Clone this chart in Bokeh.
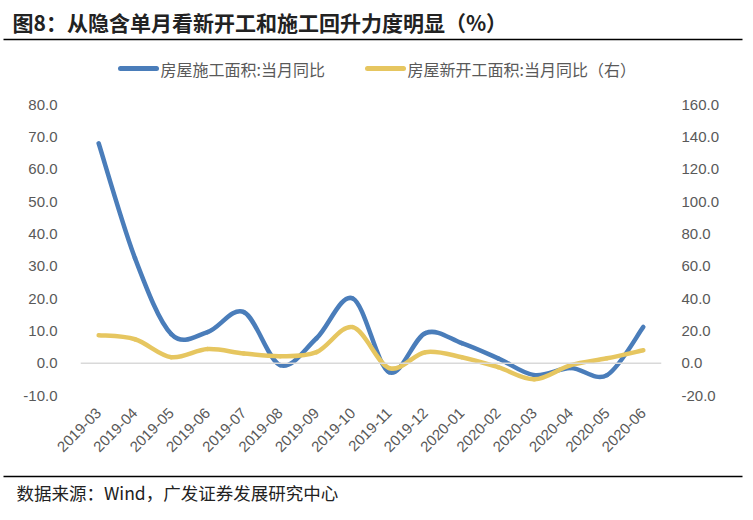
import numpy as np
from bokeh.plotting import figure
from bokeh.layouts import column
from bokeh.models import (Range1d, LinearAxis, FixedTicker, NumeralTickFormatter, Span)
from bokeh.core.properties import value
from bokeh.embed import file_html
from bokeh.resources import INLINE

months = ["2019-03", "2019-04", "2019-05", "2019-06", "2019-07", "2019-08",
          "2019-09", "2019-10", "2019-11", "2019-12", "2020-01", "2020-02",
          "2020-03", "2020-04", "2020-05", "2020-06"]
construction = [68.0, 32.5, 9.0, 9.6, 15.8, -0.6, 7.7, 20.0, -2.8, 9.3,
                6.2, 1.5, -3.7, -1.5, -3.7, 11.2]
new_starts = [17.3, 14.8, 3.7, 8.7, 6.0, 4.3, 6.8, 22.3, -3.0, 6.8,
              3.7, -2.5, -10.0, -1.2, 3.0, 8.0]
left_ticks = [-10, 0, 10, 20, 30, 40, 50, 60, 70, 80]
right_ticks = [-20, 0, 20, 40, 60, 80, 100, 120, 140, 160]

title_text = "图8：从隐含单月看新开工和施工回升力度明显（%）"
source_text = "数据来源：Wind，广发证券发展研究中心"
name_a = "房屋施工面积:当月同比"
name_b = "房屋新开工面积:当月同比（右）"

BLUE = "#4a7dba"
YELLOW = "#e6c660"
GRAY = "#595959"
CJK = "Noto Sans CJK SC"

W = 745
H_TOP = 90
H_MAIN = 372
H_BOT = 50
FL, FR, FT, FB = 80, 661, 104, 395   # frame edges in page pixels


def blank(height):
    f = figure(width=W, height=height, output_backend="svg", toolbar_location=None,
               x_range=Range1d(0, W), y_range=Range1d(height, 0),
               min_border=0, min_border_left=0, min_border_right=0,
               min_border_top=0, min_border_bottom=0, frame_align=False)
    f.axis.visible = False
    f.grid.visible = False
    f.outline_line_color = None
    return f


# ---------- header: title, rule, legend ----------
top = blank(H_TOP)
top.text(x=[12], y=[21], text=[title_text], text_font=value(CJK), text_font_style="bold",
         text_font_size="21px", text_color="#222222", text_baseline="middle")
top.line(x=[3, 742], y=[39, 39], line_color="black", line_width=1.6)
top.line(x=[120, 156], y=[68, 68], line_color=BLUE, line_width=5, line_cap="round")
top.text(x=[160], y=[68], text=[name_a], text_font=value(CJK), text_font_size="16px",
         text_color=GRAY, text_baseline="middle")
top.line(x=[367, 403], y=[68, 68], line_color=YELLOW, line_width=5, line_cap="round")
top.text(x=[407], y=[68], text=[name_b], text_font=value(CJK), text_font_size="16px",
         text_color=GRAY, text_baseline="middle")

# ---------- main chart ----------
p = figure(width=W, height=H_MAIN, output_backend="svg", toolbar_location=None,
           x_range=Range1d(-0.5, len(months) - 0.5),
           y_range=Range1d(left_ticks[0], left_ticks[-1]),
           min_border_left=FL, min_border_right=W - FR,
           min_border_top=FT - H_TOP, min_border_bottom=H_TOP + H_MAIN - FB,
           frame_align=False)
p.extra_y_ranges = {"right": Range1d(right_ticks[0], right_ticks[-1])}
p.outline_line_color = None
p.xgrid.visible = False
p.ygrid.visible = False


def smooth(vals):
    x = np.arange(len(vals), dtype=float)
    y = np.asarray(vals, dtype=float)
    xp = np.concatenate([[x[0]], x, [x[-1]]])
    yp = np.concatenate([[y[0]], y, [y[-1]]])
    d = {"x0": [], "y0": [], "x1": [], "y1": [], "cx0": [], "cy0": [], "cx1": [], "cy1": []}
    for i in range(len(x) - 1):
        d["x0"].append(x[i]); d["y0"].append(y[i])
        d["x1"].append(x[i + 1]); d["y1"].append(y[i + 1])
        d["cx0"].append(x[i] + (xp[i + 2] - xp[i]) / 6)
        d["cy0"].append(y[i] + (yp[i + 2] - yp[i]) / 6)
        d["cx1"].append(x[i + 1] - (xp[i + 3] - xp[i + 1]) / 6)
        d["cy1"].append(y[i + 1] - (yp[i + 3] - yp[i + 1]) / 6)
    return d


p.add_layout(Span(location=0, dimension="width", line_color="#d9d9d9", line_width=1.5))

p.bezier(line_color=BLUE, line_width=4.5, line_cap="round", **smooth(construction))
p.bezier(line_color=YELLOW, line_width=4.5, line_cap="round", y_range_name="right",
         **smooth(new_starts))

xa = p.xaxis[0]
xa.ticker = FixedTicker(ticks=list(range(len(months))))
xa.major_label_overrides = {i: m for i, m in enumerate(months)}
xa.major_label_orientation = np.pi / 4
xa.axis_line_color = None
xa.major_tick_line_color = None
xa.minor_tick_line_color = None
xa.major_label_standoff = 9
xa.major_label_text_font = "Liberation Sans"
xa.major_label_text_font_size = "15px"
xa.major_label_text_color = GRAY

ya = p.yaxis[0]
ya.ticker = FixedTicker(ticks=left_ticks)
ya.formatter = NumeralTickFormatter(format="0.0")
ya.axis_line_color = None
ya.major_tick_line_color = None
ya.minor_tick_line_color = None
ya.major_label_standoff = 17
ya.major_label_text_font = "Liberation Sans"
ya.major_label_text_font_size = "15px"
ya.major_label_text_color = GRAY

yr = LinearAxis(y_range_name="right", ticker=FixedTicker(ticks=right_ticks),
                formatter=NumeralTickFormatter(format="0.0"))
yr.axis_line_color = None
yr.major_tick_line_color = None
yr.minor_tick_line_color = None
yr.major_label_standoff = 14
yr.major_label_text_font = "Liberation Sans"
yr.major_label_text_font_size = "15px"
yr.major_label_text_color = GRAY
p.add_layout(yr, "right")

# ---------- footer ----------
bot = blank(H_BOT)
bot.line(x=[3, 742], y=[476 - 462, 476 - 462], line_color="black", line_width=1.6)
bot.text(x=[16], y=[492 - 462], text=[source_text], text_font=value(CJK),
         text_font_size="17.5px", text_color="#222222", text_baseline="middle")

layout = column(top, p, bot, spacing=0)
open("out.html", "w").write(file_html(layout, INLINE))
